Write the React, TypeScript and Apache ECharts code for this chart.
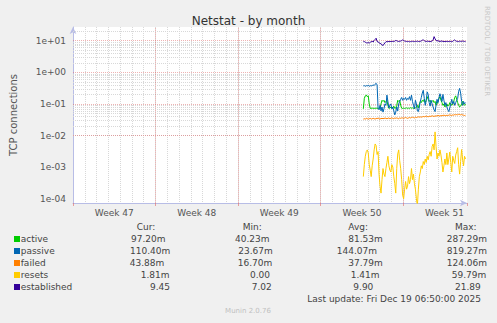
import React, { useEffect, useRef } from "react";
import * as echarts from "echarts";

// ---- data ----
const seriesNames = ["active", "passive", "failed", "resets", "established"];
const seriesColors = ["#00CC00", "#0066B3", "#FF8000", "#FFCC00", "#330099"];
const weekLabels = ["Week 47", "Week 48", "Week 49", "Week 50", "Week 51"];
const curValues = ["97.20m", "110.40m", "43.88m", "1.81m", "9.45"];
const minValues = ["40.23m", "23.67m", "16.70m", "0.00", "7.02"];
const avgValues = ["81.53m", "144.07m", "37.79m", "1.41m", "9.90"];
const maxValues = ["287.29m", "819.27m", "124.06m", "59.79m", "21.89"];
const lastUpdate = "Last update: Fri Dec 19 06:50:00 2025";

// hours since Sun Nov 16 00:00, one sample every 2 hours
const startHour = 591;
const stepHours = 2;

const active = [
  0.07, 0.15, 0.18, 0.19, 0.17, 0.18, 0.10,
  0.072, 0.072, 0.074, 0.072, 0.073, 0.072, 0.074, 0.072, 0.073, 0.072, 0.075,
  0.10, 0.13, 0.12, 0.13, 0.11, 0.12, 0.13, 0.09,
  0.072, 0.074, 0.08, 0.072, 0.075, 0.085, 0.072, 0.074, 0.09,
  0.13, 0.12, 0.13, 0.09,
  0.073, 0.072, 0.074, 0.072, 0.073, 0.075, 0.072, 0.074, 0.072, 0.076, 0.073, 0.075,
  0.072, 0.074, 0.073, 0.08, 0.09, 0.075, 0.10, 0.12, 0.11, 0.13,
  0.12, 0.14, 0.11, 0.13, 0.17, 0.14, 0.12, 0.13, 0.11, 0.12,
  0.13, 0.11, 0.12, 0.09, 0.10, 0.12, 0.15, 0.17, 0.13, 0.11,
  0.09, 0.10, 0.08, 0.09, 0.10, 0.085, 0.09, 0.11, 0.10, 0.09,
  0.10, 0.12, 0.16, 0.18, 0.14, 0.11, 0.09, 0.08, 0.085, 0.10,
  0.12, 0.10, 0.09, 0.0972,
];
const passive = [
  0.37, 0.38, 0.36, 0.38, 0.37, 0.39, 0.36, 0.38, 0.37, 0.38, 0.40, 0.38, 0.42, 0.45, 0.40,
  0.072, 0.065, 0.09, 0.06, 0.08, 0.055, 0.07, 0.10, 0.09,
  0.19, 0.12, 0.075, 0.09,
  0.10, 0.07, 0.08, 0.06, 0.045, 0.055, 0.08, 0.06, 0.10, 0.12,
  0.14, 0.16, 0.13, 0.15, 0.14, 0.16, 0.13, 0.15, 0.14, 0.17, 0.13, 0.19, 0.12,
  0.09, 0.07, 0.13, 0.10, 0.06, 0.057, 0.08, 0.12, 0.16, 0.22,
  0.27, 0.15, 0.09, 0.13, 0.24, 0.20, 0.11, 0.085, 0.13, 0.10,
  0.08, 0.065, 0.057, 0.09, 0.14, 0.11, 0.16, 0.21, 0.17, 0.12,
  0.20, 0.13, 0.09, 0.11, 0.08, 0.065, 0.057, 0.075, 0.10, 0.14,
  0.10, 0.12, 0.09, 0.11, 0.13, 0.15, 0.25, 0.31, 0.22, 0.12,
  0.09, 0.12, 0.10, 0.1104,
];
const failed = [
  0.033, 0.034, 0.033, 0.035, 0.034, 0.033, 0.034, 0.035, 0.033, 0.034,
  0.035, 0.034, 0.033, 0.035, 0.034, 0.036, 0.034, 0.033, 0.035, 0.034,
  0.035, 0.034, 0.036, 0.035, 0.034, 0.035, 0.036, 0.034, 0.035, 0.036,
  0.035, 0.034, 0.036, 0.035, 0.036, 0.035, 0.034, 0.036, 0.035, 0.036,
  0.036, 0.035, 0.036, 0.037, 0.036, 0.035, 0.036, 0.037, 0.036, 0.037,
  0.038, 0.037, 0.036, 0.038, 0.037, 0.038, 0.039, 0.038, 0.039, 0.038,
  0.039, 0.040, 0.039, 0.040, 0.041, 0.040, 0.039, 0.041, 0.040, 0.041,
  0.042, 0.041, 0.040, 0.042, 0.041, 0.042, 0.043, 0.042, 0.041, 0.043,
  0.042, 0.043, 0.044, 0.043, 0.042, 0.044, 0.043, 0.044, 0.045, 0.044,
  0.043, 0.045, 0.044, 0.046, 0.045, 0.046, 0.045, 0.047, 0.046, 0.045,
  0.046, 0.045, 0.044, 0.043, 0.04388,
];
const resets = [
  0.0005, 0.0012, 0.0022, 0.0031, 0.0035, 0.0028, 0.0012, 0.0008, 0.0005, 0.0011,
  0.0018, 0.0035, 0.0054, 0.0048, 0.0025, 0.0031, 0.0006, 0.00025, 0.00015, 0.0004,
  0.0009, 0.0006, 0.0005, 0.0009, 0.0014, 0.0022, 0.0011, 0.0008, 0.0007, 0.0012,
  0.0010, 0.0005, 0.0003, 0.00015, 0.0009, 0.0026, 0.0035, 0.0016, 0.0009, 0.0004,
  0.00013, 0.0001, 0.0002, 0.00035, 0.0002, 0.00025, 0.0005, 0.0003, 0.0004, 0.0009,
  0.0004, 0.0006, 0.0003, 0.0002, 0.0001, 0.00006, 0.0002, 0.0005, 0.0007, 0.0011,
  0.0009, 0.0015, 0.0012, 0.0018, 0.0014, 0.0022, 0.0017, 0.0025, 0.0031, 0.0022,
  0.0045, 0.0054, 0.0035, 0.013, 0.0045, 0.0018, 0.0028, 0.0022, 0.0035, 0.0024,
  0.0014, 0.0007, 0.0011, 0.0018, 0.0012, 0.0028, 0.0012, 0.0018, 0.0030, 0.0014,
  0.0007, 0.0022, 0.0016, 0.0013, 0.0024, 0.0031, 0.0041, 0.0012, 0.0006, 0.0015,
  0.0036, 0.0018, 0.0011, 0.0022, 0.00181,
];
const established = [
  9.6, 9.4, 9.0, 8.6,
  8.5, 8.8, 8.4, 8.9, 9.3,
  9.6, 9.1, 10.2, 11.0, 12.0,
  9.5, 9.2, 8.6, 8.3,
  7.9, 7.5, 7.02, 7.8, 8.6,
  9.3, 9.4, 9.3, 9.5, 9.4, 9.5, 9.4, 9.6,
  9.5, 9.7, 10.2, 10.0, 9.6, 9.5, 9.6, 9.8, 10.1, 10.6,
  10.2, 9.8, 9.6, 9.5, 9.4, 9.5, 9.3, 9.4, 9.5, 9.6,
  9.5, 9.4, 9.6, 9.5, 9.7, 9.5, 9.4, 9.6, 9.9, 10.3,
  10.8, 10.0, 9.6, 9.5, 9.7, 9.6, 9.5, 9.4, 9.6, 9.7,
  10.5, 13.5, 11.5, 10.2, 9.8,
  10.1, 9.6, 9.5, 9.7, 9.8, 9.5, 9.4, 9.5, 9.4, 9.6,
  9.5, 9.4, 9.6, 9.5, 9.3, 9.6, 10.2, 10.6, 9.9, 9.6,
  9.5, 9.4, 9.7, 9.6, 9.5, 9.8, 9.6, 9.5, 9.45,
];
const seriesValues = [active, passive, failed, resets, established];

// axis extents
const xMaxHours = 802;
const yMin = 7.3e-5;
const yMax = 27.2;

const FONT = '"DejaVu Sans", sans-serif';
const TEXT = "#444";

function expLabel(v: number) {
  const e = Math.round(Math.log10(v));
  return "1e" + (e >= 0 ? "+" : "-") + String(Math.abs(e)).padStart(2, "0");
}

export default function App() {
  const ref = useRef<HTMLDivElement>(null);
  useEffect(() => {
    if (!ref.current) return;
    const chart = echarts.init(ref.current, null, { renderer: "svg" });

    const majorLines: any[] = [];
    const minorLines: any[] = [];
    for (let n = -5; n <= 1; n++) {
      const base = Math.pow(10, n);
      if (base >= yMin && base <= yMax) majorLines.push({ yAxis: base });
      for (let k = 2; k <= 9; k++) {
        const v = k * base;
        if (v >= yMin && v <= yMax) minorLines.push({ yAxis: v });
      }
    }

    const axisColor = "#b8bde6";
    const majorColor = "#e06666";
    const minorColor = "#d8d8d8";
    const rowY = [239, 251, 263, 275, 287];
    const curX = [131, 130, 129.7, 140.7, 150];
    const minX = [235, 238.3, 237.7, 250, 251.7];
    const avgX = [348.3, 336.7, 348.3, 350.7, 353.3];
    const maxX = [446.7, 446.7, 446.7, 451.7, 455];

    const txt = (x: number, y: number, text: string, opts: any = {}) => ({
      type: "text",
      x,
      y,
      rotation: opts.rotation || 0,
      silent: true,
      style: {
        text,
        font: `${opts.size || 9}px ${FONT}`,
        fill: opts.fill || TEXT,
        textAlign: opts.align || "left",
        align: opts.align || "left",
        textVerticalAlign: "middle",
        verticalAlign: "middle",
      },
    });

    const graphics: any[] = [
      txt(248.5, 20.5, "Netstat - by month", { size: 12, align: "center", fill: "#333" }),
      txt(487, 51, "RRDTOOL / TOBI OETIKER", { size: 7, align: "center", fill: "#c8c8c8", rotation: -Math.PI / 2 }),
      txt(136.7, 227, "Cur:"),
      txt(242.7, 227, "Min:"),
      txt(348.3, 227, "Avg:"),
      txt(455, 227, "Max:"),
      txt(307.3, 299.3, lastUpdate),
      txt(248, 311, "Munin 2.0.76", { size: 7, align: "center", fill: "#c0c0c0" }),
    ];
    seriesNames.forEach((name, i) => {
      graphics.push({
        type: "rect",
        shape: { x: 14, y: rowY[i] - 3, width: 6, height: 6 },
        style: { fill: seriesColors[i] },
        silent: true,
      });
      graphics.push(txt(20.7, rowY[i], name));
      graphics.push(txt(curX[i], rowY[i], curValues[i]));
      graphics.push(txt(minX[i], rowY[i], minValues[i]));
      graphics.push(txt(avgX[i], rowY[i], avgValues[i]));
      graphics.push(txt(maxX[i], rowY[i], maxValues[i]));
    });

    const markLineBase = {
      silent: true,
      symbol: "none",
      label: { show: false },
      emphasis: { disabled: true },
      animation: false,
    };
    const series: any[] = [
      {
        type: "line",
        name: "grid",
        xAxisIndex: 0,
        yAxisIndex: 0,
        data: [],
        z: 1,
        silent: true,
        markLine: { ...markLineBase, data: minorLines, lineStyle: { color: minorColor, type: [1, 1], width: 1 } },
      },
      {
        type: "line",
        name: "grid-major",
        xAxisIndex: 0,
        yAxisIndex: 0,
        data: [],
        z: 2,
        silent: true,
        markLine: {
          ...markLineBase,
          data: [
            ...majorLines,
            ...[168, 336, 504, 672].map((h) => ({ xAxis: h })),
          ],
          lineStyle: { color: majorColor, type: [1, 1], width: 1, opacity: 0.5 },
        },
      },
    ];
    seriesNames.forEach((name, i) => {
      series.push({
        type: "line",
        name,
        xAxisIndex: 0,
        yAxisIndex: 0,
        z: 5,
        showSymbol: false,
        symbol: "none",
        lineStyle: { width: 1, color: seriesColors[i] },
        itemStyle: { color: seriesColors[i] },
        data: seriesValues[i].map((v, j) => [startHour + j * stepHours, v]),
      });
    });

    chart.setOption({
      animation: false,
      backgroundColor: "#f0f0f0",
      grid: { left: 66, right: 30, top: 27, bottom: 120, show: true, backgroundColor: "#ffffff", borderWidth: 0 },
      graphic: graphics,
      xAxis: [
        {
          type: "value",
          position: "bottom",
          offset: 0,
          min: 0,
          max: xMaxHours,
          interval: 24,
          axisLine: { show: false },
          axisTick: { show: false },
          axisLabel: { show: false },
          splitLine: { show: true, showMinLine: false, showMaxLine: false, lineStyle: { color: minorColor, type: [1, 1], width: 1 } },
        },
        {
          type: "value",
          position: "bottom",
          offset: 0,
          min: 0,
          max: xMaxHours,
          interval: 168,
          axisLine: {
            show: true,
            onZero: false,
            symbol: ["none", "arrow"],
            symbolSize: [5, 7],
            lineStyle: { color: axisColor, width: 1 },
          },
          axisTick: { show: true, length: 3, lineStyle: { color: majorColor, opacity: 0.6 } },
          axisLabel: { show: false },
          splitLine: { show: false },
        },
        {
          type: "value",
          position: "bottom",
          offset: 0,
          min: 0,
          max: xMaxHours,
          interval: 84,
          axisLine: { show: false, onZero: false },
          axisTick: { show: false },
          splitLine: { show: false },
          axisLabel: {
            show: true,
            margin: 5,
            showMaxLabel: false,
            color: "#555",
            fontSize: 9,
            fontFamily: FONT,
            formatter: (v: number) => (v % 168 === 84 ? weekLabels[(v - 84) / 168] || "" : ""),
          },
        },
      ],
      yAxis: [
        {
          type: "log",
          logBase: 10,
          min: yMin,
          max: yMax,
          name: "TCP connections",
          nameLocation: "middle",
          nameGap: 55,
          nameTextStyle: { color: "#555", fontSize: 10, fontFamily: FONT },
          axisLine: {
            show: true,
            onZero: false,
            symbol: ["none", "arrow"],
            symbolSize: [5, 7],
            lineStyle: { color: axisColor, width: 1 },
          },
          axisTick: { show: false },
          splitLine: { show: false },
          axisLabel: {
            show: true,
            margin: 7,
            showMinLabel: false,
            showMaxLabel: false,
            color: "#555",
            fontSize: 9,
            fontFamily: FONT,
            formatter: (v: number) => expLabel(v),
          },
        },
      ],
      series,
    });
    return () => chart.dispose();
  }, []);
  return (
    <div
      ref={ref}
      style={{ position: "absolute", left: 0, top: 0, width: 497, height: 323, background: "#f0f0f0" }}
    />
  );
}
